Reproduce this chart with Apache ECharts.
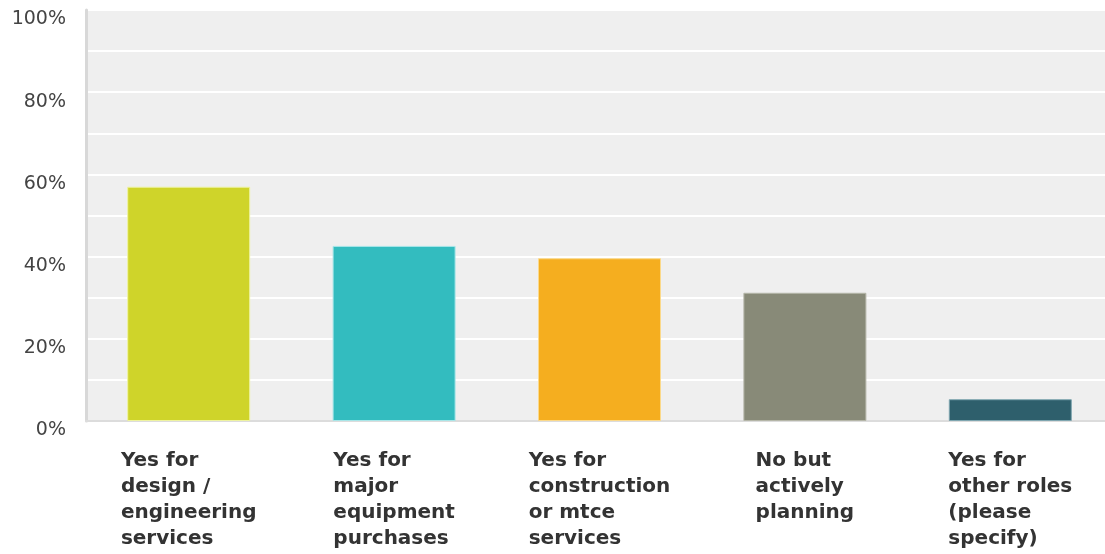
<!DOCTYPE html>
<html>
<head>
<meta charset="utf-8">
<style>
  html, body { margin: 0; padding: 0; background: #ffffff; }
  #chart { width: 1105px; height: 554px; }
</style>
<script src="https://cdn.jsdelivr.net/npm/echarts@6/dist/echarts.min.js"></script>
</head>
<body>
<div id="chart"></div>
<script>
// Survey answers, one bar per option
const categories = [
  'Yes for\ndesign /\nengineering\nservices',
  'Yes for\nmajor\nequipment\npurchases',
  'Yes for\nconstruction\nor mtce\nservices',
  'No but\nactively\nplanning',
  'Yes for\nother roles\n(please\nspecify)'
];
const percentages = [57.0, 42.6, 39.6, 31.2, 5.3];
const barColors = ['#cfd42a', '#33bcbf', '#f5ae1f', '#888a78', '#2e5f6c'];
const barEdges = ['#eef3a0', '#a8e6e8', '#fbd98a', '#b5b6a8', '#7fa6b0'];

const chart = echarts.init(document.getElementById('chart'));

chart.setOption({
  animation: false,
  backgroundColor: '#ffffff',
  grid: {
    left: 86,
    top: 10,
    width: 1027,
    bottom: 133,
    outerBoundsMode: 'none',
    containLabel: false,
    show: true,
    backgroundColor: '#efefef',
    borderWidth: 0
  },
  xAxis: {
    type: 'category',
    data: categories,
    axisLine: { show: true, lineStyle: { color: '#dcdcdc', width: 2 } },
    axisTick: { show: false },
    splitLine: { show: false },
    axisLabel: {
      interval: 0,
      margin: 27,
      align: 'center',
      verticalAlign: 'top',
      formatter: function (v) {
        return v.split('\n').map(function (s) { return '{t|' + s + '}'; }).join('\n');
      },
      rich: {
        t: {
          fontFamily: 'DejaVu Sans',
          fontWeight: 'bold',
          fontSize: 20,
          lineHeight: 26,
          color: '#333333',
          align: 'left'
        }
      }
    }
  },
  yAxis: {
    type: 'value',
    min: 0,
    max: 100,
    interval: 10,
    axisLine: { show: true, lineStyle: { color: '#d8d8d8', width: 3 } },
    axisTick: { show: false },
    splitLine: { show: true, lineStyle: { color: '#ffffff', width: 2 } },
    axisLabel: {
      margin: 20,
      fontFamily: 'DejaVu Sans',
      fontSize: 19,
      color: '#444444',
      verticalAlign: 'top',
      lineHeight: 19,
      formatter: function (v) { return v % 20 === 0 ? v + '%' : ''; }
    }
  },
  series: [{
    type: 'bar',
    barWidth: 123,
    data: percentages.map(function (v, i) {
      return {
        value: v,
        itemStyle: { color: barColors[i], borderColor: barEdges[i], borderWidth: 1 }
      };
    })
  }]
});
</script>
</body>
</html>
